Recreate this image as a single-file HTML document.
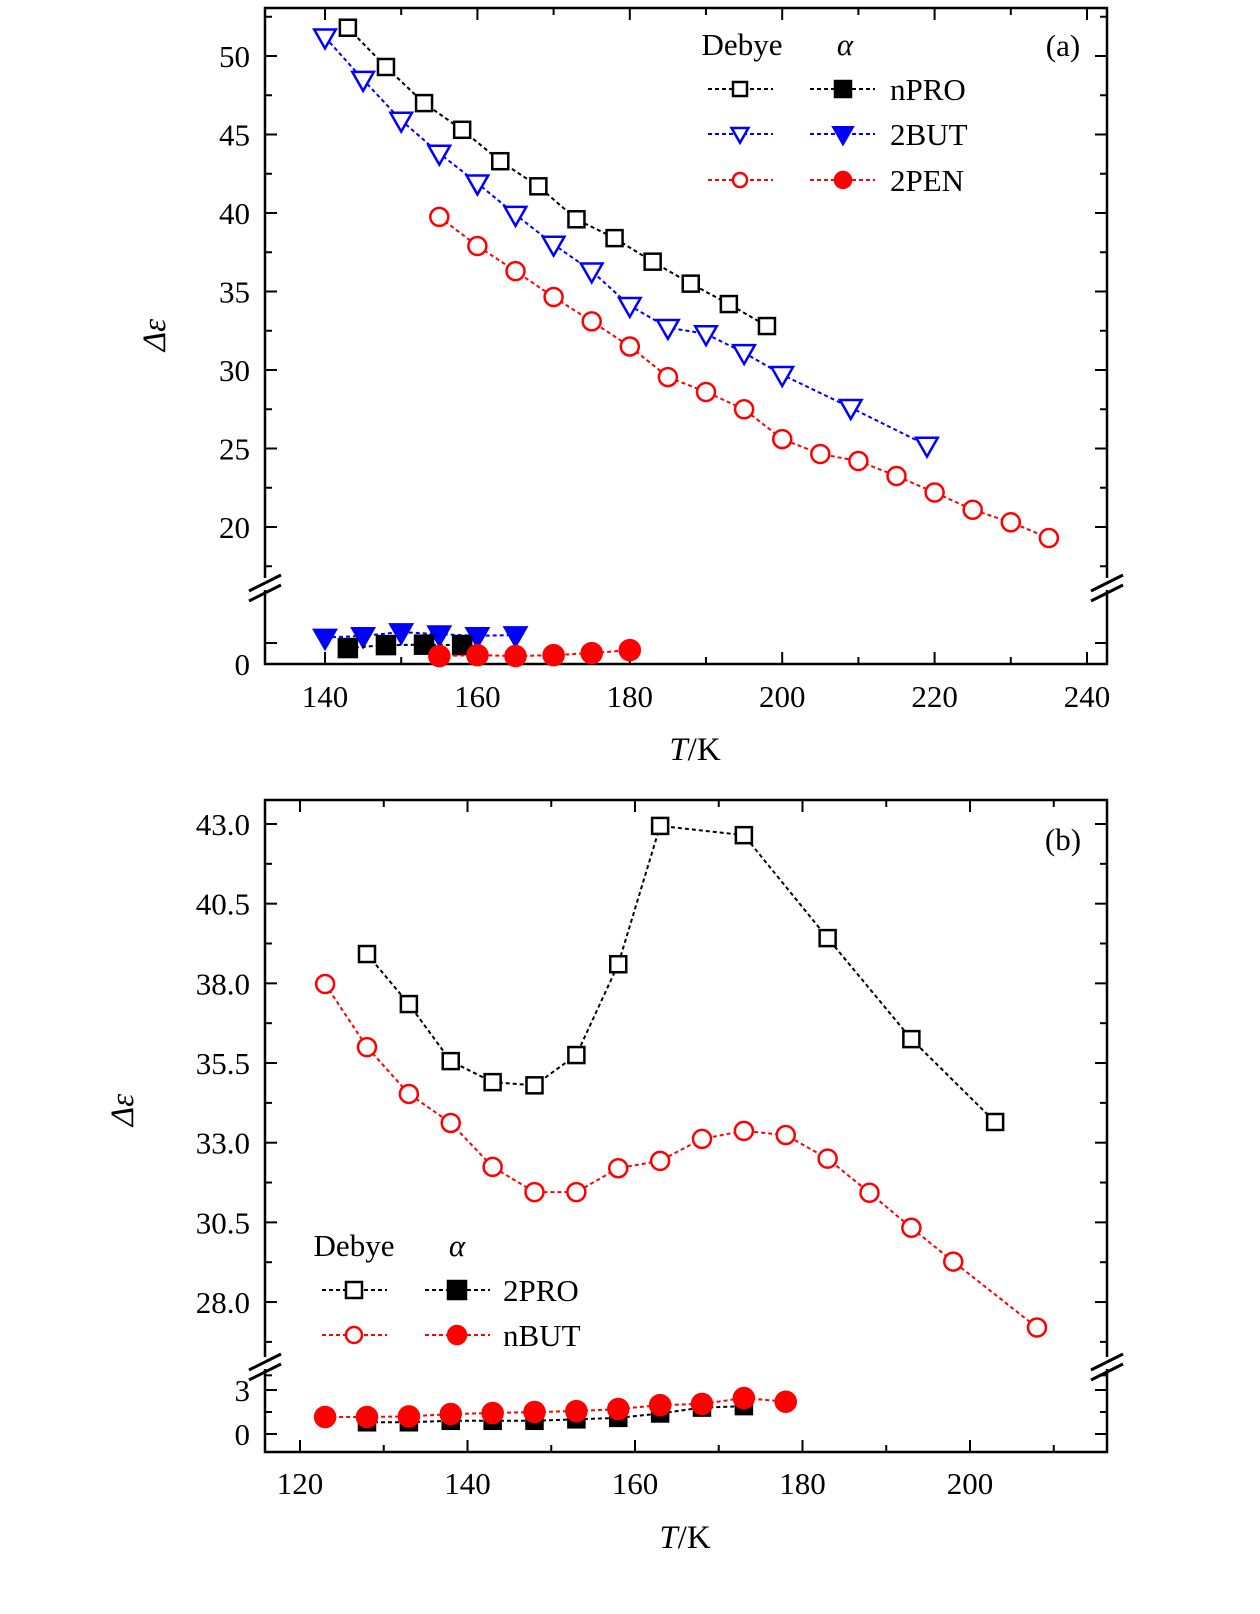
<!DOCTYPE html>
<html><head><meta charset="utf-8"><style>
html,body{margin:0;padding:0;background:#fff;}
svg{display:block;font-family:"Liberation Serif",serif;}
</style></head><body>
<svg id="chart" width="1260" height="1614" viewBox="0 0 1260 1614" xmlns="http://www.w3.org/2000/svg"></svg>
<script>
// ---------- Panel (a) data ----------
const aNPROt=[143,148,153,158,163,168,173,178,183,188,193,198];
const aNPROv=[51.8,49.3,47.0,45.3,43.3,41.7,39.6,38.4,36.9,35.5,34.2,32.8];
const a2BUTt=[140,145,150,155,160,165,170,175,180,185,190,195,200,209,219];
const a2BUTv=[51.2,48.5,45.9,43.8,41.9,39.9,38.0,36.3,34.1,32.7,32.3,31.1,29.7,27.6,25.2];
const a2PENt=[155,160,165,170,175,180,185,190,195,200,205,210,215,220,225,230,235];
const a2PENv=[39.75,37.9,36.3,34.65,33.1,31.5,29.55,28.6,27.5,25.6,24.65,24.2,23.25,22.2,21.1,20.3,19.3];
const aNPROat=[143,148,153,158];
const aNPROav=[3.8,4.5,4.6,4.5];
const a2BUTat=[140,145,150,155,160,165];
const a2BUTav=[6.3,6.7,7.6,7.1,6.7,6.9];
const a2PENat=[155,160,165,170,175,180];
const a2PENav=[1.9,2.1,1.9,2.1,2.6,3.3];
const aXTicks=[140,160,180,200,220,240];
const aYTicks=[20,25,30,35,40,45,50];
// ---------- Panel (b) data ----------
const b2PROt=[128,133,138,143,148,153,158,163,173,183,193,203];
const b2PROv=[38.92,37.35,35.56,34.9,34.8,35.75,38.6,42.94,42.65,39.42,36.25,33.65];
const bNBUTt=[123,128,133,138,143,148,153,158,163,168,173,178,183,188,193,198,208];
const bNBUTv=[37.98,36.0,34.53,33.62,32.24,31.45,31.45,32.2,32.43,33.12,33.37,33.24,32.5,31.43,30.33,29.27,27.2];
const b2PROat=[128,133,138,143,148,153,158,163,168,173];
const b2PROav=[0.8,0.8,0.9,0.9,0.9,1.0,1.1,1.4,1.8,1.9];
const bNBUTat=[123,128,133,138,143,148,153,158,163,168,173,178];
const bNBUTav=[1.16,1.16,1.2,1.36,1.43,1.5,1.56,1.7,1.97,2.05,2.45,2.2];
const bXTicks=[120,140,160,180,200];
const bYTicks=[28.0,30.5,33.0,35.5,38.0,40.5,43.0];
const bYLowTicks=[0,3];

const svg=document.getElementById('chart');
const NS='http://www.w3.org/2000/svg';
function mk(tag,attrs,parent){const e=document.createElementNS(NS,tag);for(const k in attrs)e.setAttribute(k,attrs[k]);(parent||svg).appendChild(e);return e;}
function txt(s,x,y,size,anchor,parent,style){const t=mk('text',{x:x,y:y,'font-size':size,'text-anchor':anchor||'middle',fill:'#000'},parent);if(style)t.setAttribute('font-style',style);t.textContent=s;return t;}

function marker(g,type,fill,color,x,y,s){
  let e;
  if(type==='sq'){e=mk('rect',{x:x-s,y:y-s,width:2*s,height:2*s},g);}
  else if(type==='ci'){e=mk('circle',{cx:x,cy:y,r:s},g);}
  else {e=mk('polygon',{points:(x-s*1.2)+','+(y-s*0.85)+' '+(x+s*1.2)+','+(y-s*0.85)+' '+x+','+(y+s*1.25)},g);}
  e.setAttribute('fill',fill?color:'#fff');e.setAttribute('stroke',color);e.setAttribute('stroke-width',2.5);
  return e;
}
function series(name,ts,vs,xf,yf,type,fill,color,s){
  const g=mk('g',{});
  
  
  const pts=ts.map((t,i)=>xf(t)+','+yf(vs[i])).join(' ');
  mk('polyline',{points:pts,fill:'none',stroke:color,'stroke-width':2,'stroke-dasharray':'4,3'},g);
  ts.forEach((t,i)=>{const m=marker(g,type,fill,color,xf(t),yf(vs[i]),s);});
}
function brk(x,y,g){mk('line',{x1:x-16,y1:y+8,x2:x+16,y2:y-8,stroke:'#000','stroke-width':3},g);mk('line',{x1:x-16,y1:y+18,x2:x+16,y2:y+2,stroke:'#000','stroke-width':3},g);}

// ---------- Panel (a) ----------
(function(){
  const L=265,R=1107,T=8,B=664;
  const xf=t=>325+(t-140)*7.62;
  const yf=v=>56+(50-v)*15.7;
  const yl=v=>664-v*4.2;
  const g=mk('g',{});
  
  
  mk('rect',{x:L,y:T,width:R-L,height:B-T,fill:'none',stroke:'#000','stroke-width':2.5},g);
  for(let t=130;t<=240;t+=10){const x=xf(t);if(x<L||x>R)continue;const len=(t%20===0)?12:7;
    mk('line',{x1:x,y1:B,x2:x,y2:B-len,stroke:'#000','stroke-width':2},g);mk('line',{x1:x,y1:T,x2:x,y2:T+len,stroke:'#000','stroke-width':2},g);}
  aXTicks.forEach(t=>{const l=txt(String(t),xf(t),707,31,'middle',g);});
  for(let v=17.5;v<=52.5;v+=2.5){const y=yf(v);const len=(v%5===0)?12:7;
    mk('line',{x1:L,y1:y,x2:L+len,y2:y,stroke:'#000','stroke-width':2},g);mk('line',{x1:R,y1:y,x2:R-len,y2:y,stroke:'#000','stroke-width':2},g);}
  aYTicks.forEach(v=>{const l=txt(String(v),250,yf(v)+11,31,'end',g);});
  [0,5].forEach(v=>{const y=yl(v);mk('line',{x1:L,y1:y,x2:L+12,y2:y,stroke:'#000','stroke-width':2},g);mk('line',{x1:R,y1:y,x2:R-12,y2:y,stroke:'#000','stroke-width':2},g);});
  txt('0',250,yl(0)+11,31,'end',g);
  mk('rect',{x:L-20,y:578,width:40,height:12,fill:'#fff'},g);
  mk('rect',{x:R-20,y:578,width:40,height:12,fill:'#fff'},g);
  brk(L,583,g);brk(R,583,g);
  const xt=txt('',695,760,33,'middle',g);xt.innerHTML='<tspan font-style="italic">T</tspan>/K';
  
  const yt=txt('Δε',0,0,33,'middle',g);yt.setAttribute('transform','translate(165,335) rotate(-90)');yt.setAttribute('font-style','italic');
  
  txt('(a)',1063,56,31,'middle',g);
  series('npro-debye',aNPROt,aNPROv,xf,yf,'sq',false,'#000',8);
  series('2but-debye',a2BUTt,a2BUTv,xf,yf,'tri',false,'#00f',9);
  series('2pen-debye',a2PENt,a2PENv,xf,yf,'ci',false,'#f00',9);
  series('2but-alpha',a2BUTat,a2BUTav,xf,yl,'tri',true,'#00f',9);
  series('npro-alpha',aNPROat,aNPROav,xf,yl,'sq',true,'#000',9);
  series('2pen-alpha',a2PENat,a2PENav,xf,yl,'ci',true,'#f00',10);
  // legend
  const lg=mk('g',{});
  
  
  txt('Debye',742,55,31,'middle',lg);txt('α',845,55,31,'middle',lg,'italic');
  const rows=[['nPRO','sq','#000',89],['2BUT','tri','#00f',134],['2PEN','ci','#f00',180]];
  rows.forEach(r=>{
    const e=mk('g',{},lg);
    
    
    mk('line',{x1:708,y1:r[3],x2:773,y2:r[3],stroke:r[2],'stroke-width':2,'stroke-dasharray':'4,3'},e);
    mk('line',{x1:810,y1:r[3],x2:875,y2:r[3],stroke:r[2],'stroke-width':2,'stroke-dasharray':'4,3'},e);
    marker(e,r[1],false,r[2],740,r[3],7);marker(e,r[1],true,r[2],843,r[3],8);
    txt(r[0],890,r[3]+11,31,'start',e);
  });
})();

// ---------- Panel (b) ----------
(function(){
  const L=265,R=1107,T=800,B=1452;
  const xf=t=>300+(t-120)*8.375;
  const yf=v=>824+(43-v)*31.87;
  const yl=v=>1434-v*14.67;
  const g=mk('g',{});
  
  
  mk('rect',{x:L,y:T,width:R-L,height:B-T,fill:'none',stroke:'#000','stroke-width':2.5},g);
  for(let t=120;t<=210;t+=10){const x=xf(t);if(x<L||x>R)continue;const len=(t%20===0)?12:7;
    mk('line',{x1:x,y1:B,x2:x,y2:B-len,stroke:'#000','stroke-width':2},g);mk('line',{x1:x,y1:T,x2:x,y2:T+len,stroke:'#000','stroke-width':2},g);}
  bXTicks.forEach(t=>{const l=txt(String(t),xf(t),1494,31,'middle',g);});
  for(let i=0;i<=13;i++){const v=26.75+i*1.25;const y=yf(v);if(y>1350)continue;const len=(i%2===1)?12:7;
    mk('line',{x1:L,y1:y,x2:L+len,y2:y,stroke:'#000','stroke-width':2},g);mk('line',{x1:R,y1:y,x2:R-len,y2:y,stroke:'#000','stroke-width':2},g);}
  bYTicks.forEach(v=>{const l=txt(v.toFixed(1),250,yf(v)+11,31,'end',g);});
  [0,1.5,3,4].forEach(v=>{const y=yl(v);const len=(v===0||v===3)?12:7;mk('line',{x1:L,y1:y,x2:L+len,y2:y,stroke:'#000','stroke-width':2},g);mk('line',{x1:R,y1:y,x2:R-len,y2:y,stroke:'#000','stroke-width':2},g);});
  bYLowTicks.forEach(v=>{txt(String(v),250,yl(v)+11,31,'end',g);});
  mk('rect',{x:L-20,y:1357,width:40,height:12,fill:'#fff'},g);
  mk('rect',{x:R-20,y:1357,width:40,height:12,fill:'#fff'},g);
  brk(L,1362,g);brk(R,1362,g);
  const xt=txt('',685,1548,33,'middle',g);xt.innerHTML='<tspan font-style="italic">T</tspan>/K';
  
  const yt=txt('Δε',0,0,33,'middle',g);yt.setAttribute('transform','translate(133,1110) rotate(-90)');yt.setAttribute('font-style','italic');
  
  txt('(b)',1063,850,31,'middle',g);
  series('2pro-debye',b2PROt,b2PROv,xf,yf,'sq',false,'#000',8);
  series('nbut-debye',bNBUTt,bNBUTv,xf,yf,'ci',false,'#f00',9);
  series('2pro-alpha',b2PROat,b2PROav,xf,yl,'sq',true,'#000',8);
  series('nbut-alpha',bNBUTat,bNBUTav,xf,yl,'ci',true,'#f00',10);
  const lg=mk('g',{});
  
  
  txt('Debye',354,1256,31,'middle',lg);txt('α',457,1256,31,'middle',lg,'italic');
  [['2PRO','sq','#000',1290],['nBUT','ci','#f00',1335]].forEach(r=>{
    const e=mk('g',{},lg);
    
    
    mk('line',{x1:322,y1:r[3],x2:387,y2:r[3],stroke:r[2],'stroke-width':2,'stroke-dasharray':'4,3'},e);
    mk('line',{x1:425,y1:r[3],x2:490,y2:r[3],stroke:r[2],'stroke-width':2,'stroke-dasharray':'4,3'},e);
    marker(e,r[1],false,r[2],354,r[3],8);marker(e,r[1],true,r[2],457,r[3],9);
    txt(r[0],503,r[3]+11,31,'start',e);
  });
})();
</script>
</body></html>
